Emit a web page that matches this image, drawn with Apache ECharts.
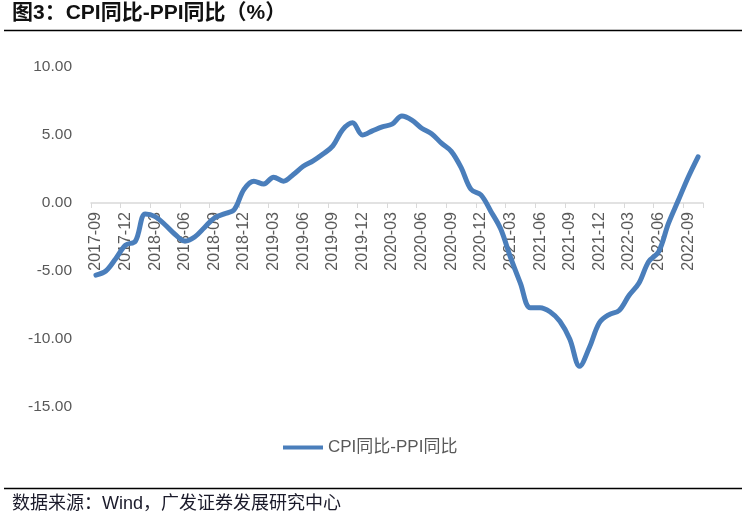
<!DOCTYPE html>
<html>
<head>
<meta charset="utf-8">
<script src="https://cdn.jsdelivr.net/npm/echarts@6/dist/echarts.min.js"></script>
<style>
html,body{margin:0;padding:0;background:#fff;}
#c{width:746px;height:526px;}
</style>
</head>
<body>
<div id="c"></div>
<script>
var categories = [
  '2017-09','2017-10','2017-11','2017-12',
  '2018-01','2018-02','2018-03','2018-04','2018-05','2018-06','2018-07','2018-08','2018-09','2018-10','2018-11','2018-12',
  '2019-01','2019-02','2019-03','2019-04','2019-05','2019-06','2019-07','2019-08','2019-09','2019-10','2019-11','2019-12',
  '2020-01','2020-02','2020-03','2020-04','2020-05','2020-06','2020-07','2020-08','2020-09','2020-10','2020-11','2020-12',
  '2021-01','2021-02','2021-03','2021-04','2021-05','2021-06','2021-07','2021-08','2021-09','2021-10','2021-11','2021-12',
  '2022-01','2022-02','2022-03','2022-04','2022-05','2022-06','2022-07','2022-08','2022-09','2022-10'
];
var cpiMinusPpi = [
  -5.3, -5.0, -4.1, -3.1,
  -2.8, -0.8, -1.0, -1.6, -2.3, -2.8, -2.5, -1.8, -1.1, -0.8, -0.5, 1.0,
  1.6, 1.4, 1.9, 1.6, 2.1, 2.7, 3.1, 3.6, 4.2, 5.4, 5.9, 5.0,
  5.3, 5.6, 5.8, 6.4, 6.1, 5.5, 5.1, 4.4, 3.8, 2.6, 1.0, 0.6,
  -0.6, -1.9, -4.0, -5.9, -7.7, -7.7, -8.0, -8.7, -10.0, -12.0, -10.6, -8.8,
  -8.2, -7.9, -6.8, -5.9, -4.3, -3.6, -1.5, 0.2, 1.9, 3.4
];
var seriesName = 'CPI同比-PPI同比';
var titleText = '图3：CPI同比-PPI同比（%）';
var sourceText = '数据来源：Wind，广发证券发展研究中心';
var yMin = -15, yMax = 10, yStep = 5;

var gridTop = 67, gridBottom = 119, chartH = 526;
var plotH = chartH - gridTop - gridBottom;
// move the category axis (line, ticks, labels) up to the value 0
var xAxisOffset = -plotH * (0 - yMin) / (yMax - yMin);

var chart = echarts.init(document.getElementById('c'), null, {renderer: 'canvas'});
var font = '"Liberation Sans", Arial, "Noto Sans CJK SC", sans-serif';
chart.setOption({
  animation: false,
  backgroundColor: '#ffffff',
  grid: {left: 91, right: 43, top: gridTop, bottom: gridBottom, containLabel: false},
  legend: {
    data: [{name: seriesName, icon: 'rect'}],
    left: 278, top: 434,
    itemWidth: 40, itemHeight: 4, itemGap: 10,
    textStyle: {fontFamily: font, fontSize: 17, color: '#595959'}
  },
  xAxis: {
    type: 'category',
    data: categories,
    boundaryGap: true,
    position: 'bottom',
    offset: xAxisOffset,
    axisLine: {onZero: false, lineStyle: {color: '#d9d9d9', width: 1.5}},
    axisTick: {show: true, interval: 2, length: 5, lineStyle: {color: '#d9d9d9', width: 1}},
    axisLabel: {interval: 2, rotate: 90, margin: 9, color: '#595959', fontSize: 16, fontFamily: font},
    splitLine: {show: false}
  },
  yAxis: {
    type: 'value',
    min: yMin, max: yMax, interval: yStep,
    axisLine: {show: false},
    axisTick: {show: false},
    splitLine: {show: false},
    axisLabel: {margin: 19, color: '#595959', fontSize: 15.5, fontFamily: font,
      formatter: function (v) { return v.toFixed(2); }}
  },
  series: [{
    name: seriesName,
    type: 'line',
    data: cpiMinusPpi,
    smooth: 0.35,
    showSymbol: false,
    symbol: 'none',
    lineStyle: {color: '#4a7ebb', width: 5, cap: 'round', join: 'round'},
    itemStyle: {color: '#4a7ebb'}
  }],
  graphic: [
    {type: 'text', left: 12, top: 3, style: {text: titleText, fontSize: 21, fontWeight: 'bold', fill: '#111111', fontFamily: font}},
    {type: 'line', shape: {x1: 4, y1: 30.5, x2: 742, y2: 30.5}, style: {stroke: '#000000', lineWidth: 1.5}},
    {type: 'line', shape: {x1: 4, y1: 488.5, x2: 742, y2: 488.5}, style: {stroke: '#000000', lineWidth: 1.5}},
    {type: 'text', left: 12, top: 495, style: {text: sourceText, fontSize: 18, fill: '#1a1a2a', fontFamily: font}}
  ]
});
</script>
</body>
</html>
